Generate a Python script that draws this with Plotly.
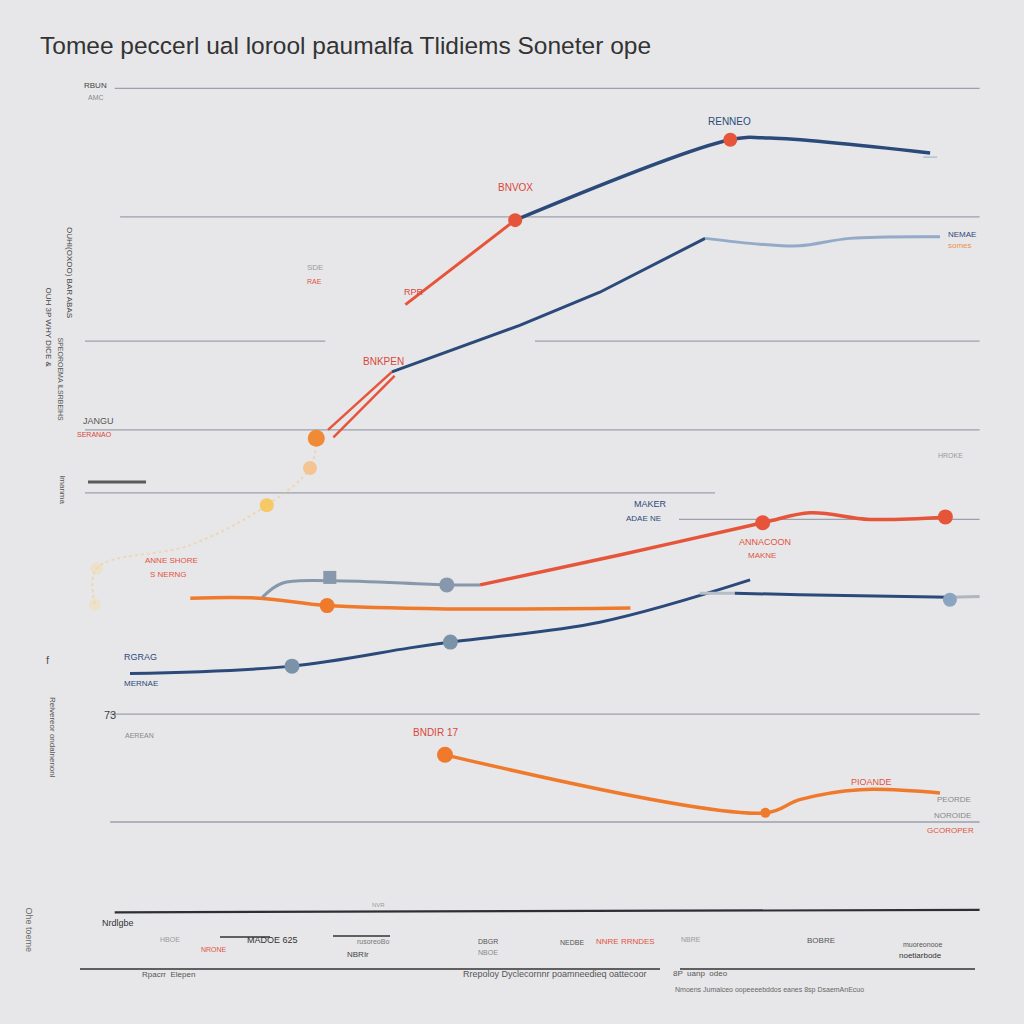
import plotly.graph_objects as go

# ---------------- data (x: period index 0-100, y: value 0-100) ----------------
top_x = [47.8, 71.7, 76.1, 93.9]
top_y = [83.7, 93.4, 93.6, 91.8]
top_lead_x = [35.6, 47.8]
top_lead_y = [73.5, 83.7]

rise_red1_x = [27.0, 34.1]
rise_red1_y = [58.4, 65.4]
rise_red2_x = [27.6, 34.4]
rise_red2_y = [57.5, 64.9]
rise_x = [34.1, 48.3, 57.2, 68.9]
rise_y = [65.4, 71.0, 75.0, 81.5]
plateau_x = [68.9, 75.0, 79.4, 85.0, 95.0]
plateau_y = [81.5, 80.8, 80.6, 81.5, 81.7]

faint_x = [25.7, 25.0, 20.2, 11.7, 1.3, 1.1]
faint_y = [57.4, 53.8, 49.3, 44.5, 41.7, 37.3]

orange_x = [11.7, 19.4, 26.9, 40.6, 60.6]
orange_y = [38.1, 38.1, 37.2, 36.8, 36.9]

grey_x = [19.7, 21.9, 27.2, 40.2, 43.9]
grey_y = [38.2, 39.9, 40.2, 39.7, 39.7]
red_x = [43.9, 59.4, 75.3, 80.6, 87.2, 95.6]
red_y = [39.7, 43.3, 47.2, 48.4, 47.6, 47.9]

navy_low_x = [5.0, 23.0, 36.1, 40.6, 57.2, 73.9]
navy_low_y = [29.0, 29.9, 32.1, 32.8, 35.2, 40.3]
navy_flat_x = [72.2, 79.4, 96.1]
navy_flat_y = [38.7, 38.5, 38.2]

orange_low_x = [40.0, 75.6, 79.4, 86.1, 95.0]
orange_low_y = [19.2, 12.2, 13.8, 15.0, 14.6]

grid_y = [99.6, 84.1, 69.1, 69.1, 58.4, 50.8, 47.6, 24.1, 11.1]
grid_x0 = [3.3, 3.9, 0.0, 50.0, 0.0, 0.0, 66.0, 2.8, 2.8]
grid_x1 = [99.4, 99.4, 26.7, 99.4, 99.4, 70.0, 99.4, 99.4, 99.4]

labels = [
    ("RENNEO", 71.6, 95.6, "#2b4a7a", 10),
    ("BNVOX", 47.8, 87.6, "#d9463a", 10),
    ("BNKPEN", 33.2, 66.6, "#d9463a", 10),
    ("RPR", 36.6, 75.0, "#d9463a", 9),
    ("MAKER", 62.8, 49.4, "#2b4a7a", 9),
    ("ADAE NE", 62.0, 47.7, "#2b4a7a", 8),
    ("ANNACOON", 75.6, 44.9, "#e2533e", 9),
    ("MAKNE", 75.2, 43.3, "#e2533e", 8),
    ("RGRAG", 6.2, 31.0, "#2b4a7a", 9),
    ("MERNAE", 6.2, 27.8, "#2b4a7a", 8),
    ("BNDIR 17", 38.9, 21.9, "#d9463a", 10),
    ("PIOANDE", 87.4, 15.9, "#e2533e", 9),
    ("PEORDE", 96.6, 13.8, "#888888", 8),
    ("NOROIDE", 96.4, 11.9, "#888888", 8),
    ("GCOROPER", 96.2, 10.1, "#e2533e", 8),
    ("NEMAE", 97.4, 82.0, "#2b4a7a", 8),
    ("somes", 97.2, 80.6, "#e8924a", 8),
    ("ANNE SHORE", 9.6, 42.6, "#e2533e", 8),
    ("S NERNG", 9.2, 41.0, "#e2533e", 8),
    ("JANGU", 1.5, 59.5, "#555555", 9),
    ("SERANAO", 1.1, 57.8, "#d9463a", 7),
    ("RBUN", 1.2, 100.0, "#444444", 8),
    ("AMC", 1.2, 98.5, "#888888", 7),
    ("SDE", 25.5, 78.0, "#999999", 8),
    ("RAE", 25.5, 76.3, "#e2533e", 7),
    ("73", 2.8, 24.0, "#444444", 11),
    ("AEREAN", 6.0, 21.5, "#888888", 7),
]

bg = "#e7e7e9"
navy = "#2b4a7a"
lightblue = "#93abc7"
red = "#e6553a"
orange = "#f07a2c"
greyblue = "#8798ad"
FONT = "Liberation Sans, Arial"

W, H = 1024, 1024
L, R, T, B = 85, 39, 85, 110

fig = go.Figure()

def line(x, y, color, width=3, dash=None, opacity=1.0, shape="spline"):
    fig.add_trace(go.Scatter(x=x, y=y, mode="lines", line=dict(color=color, width=width, shape=shape, dash=dash),
                             opacity=opacity, hoverinfo="skip", cliponaxis=False, showlegend=False))

def pts(x, y, color, size, opacity=1.0, symbol="circle"):
    fig.add_trace(go.Scatter(x=x, y=y, mode="markers", marker=dict(color=color, size=size, symbol=symbol, line=dict(width=0)),
                             opacity=opacity, hoverinfo="skip", cliponaxis=False, showlegend=False))

# grid lines
for gx0, gx1, gy in zip(grid_x0, grid_x1, grid_y):
    fig.add_shape(type="line", xref="x", yref="y", x0=gx0, x1=gx1, y0=gy, y1=gy,
                  line=dict(color="#9c9fad", width=1.3), layer="below")
# base line (bottom of plot)
fig.add_shape(type="line", xref="x", yref="y", x0=3.3, x1=99.4, y0=0.2, y1=0.5,
              line=dict(color="#2e2e35", width=2.2))
fig.add_shape(type="line", xref="x", yref="y", x0=3.3, x1=99.4, y0=-0.5, y1=-0.2,
              line=dict(color="#666", width=1))

# faint yellow trail
line(faint_x, faint_y, "#f3c67a", width=2, dash="dot", opacity=0.45)
pts([faint_x[1]], [faint_y[1]], "#f6c28a", 14, 0.9)
pts([faint_x[2]], [faint_y[2]], "#f8c65a", 14, 0.9)
pts([faint_x[4], faint_x[5]], [faint_y[4], faint_y[5]], "#f1dcaa", 12, 0.5)

# lower navy
line(navy_low_x, navy_low_y, navy, 3)
pts([navy_low_x[1], navy_low_x[3]], [navy_low_y[1], navy_low_y[3]], "#7a93a8", 15)
line([navy_flat_x[0] - 3.9, navy_flat_x[0]], [navy_flat_y[0], navy_flat_y[0]], "#b5bdc8", 3, shape="linear")
line(navy_flat_x, navy_flat_y, navy, 3)
line([navy_flat_x[-1], navy_flat_x[-1] + 3.3], [navy_flat_y[-1], navy_flat_y[-1] + 0.1], "#b0b5bf", 3, shape="linear")
pts([navy_flat_x[-1]], [navy_flat_y[-1] - 0.3], "#8aa5c0", 14)

# orange flat
line(orange_x, orange_y, orange, 3.5)
pts([orange_x[2]], [orange_y[2]], orange, 15)

# grey -> red
line(grey_x, grey_y, greyblue, 3)
pts([grey_x[2]], [grey_y[2] + 0.4], greyblue, 13, symbol="square")
pts([grey_x[3]], [grey_y[3]], greyblue, 15)
line(red_x, red_y, red, 3.5)
pts([red_x[2], red_x[5]], [red_y[2], red_y[5]], red, 15)

# lower orange
line(orange_low_x, orange_low_y, orange, 3.5)
pts([orange_low_x[0]], [orange_low_y[0]], orange, 16)
pts([orange_low_x[1]], [orange_low_y[1]], orange, 10)

# rising line
line(rise_red1_x, rise_red1_y, red, 2.5, shape="linear")
line(rise_red2_x, rise_red2_y, red, 2.5, shape="linear")
line(rise_x, rise_y, navy, 3, shape="linear")
line(plateau_x, plateau_y, lightblue, 3)
pts([faint_x[0]], [faint_y[0]], "#f08a36", 17)

# top line
line(top_lead_x, top_lead_y, red, 3, shape="linear")
line(top_x, top_y, navy, 3.5)
pts([top_x[0], top_x[1]], [top_y[0], top_y[1]], red, 14)
pts([top_x[-1]], [top_y[-1] - 0.5], "#8fb0c8", 10, symbol="line-ew-open")

for txt, lx, ly, col, sz in labels:
    fig.add_annotation(x=lx, y=ly, xref="x", yref="y", text=txt, showarrow=False,
                       font=dict(size=sz, color=col, family=FONT))

# paper helpers (pixel -> paper fraction)
def pxp(px):
    return (px - L) / (W - L - R)
def pyp(py):
    return (H - B - py) / (H - T - B)

side = [
    ("OUHI(OXOO) BAR ABAS", 63, 225, "#444444", 8, 90),
    ("OUH 3P WHY DICE &", 42, 285, "#444444", 8, 90),
    ("SPEOROEMA ILSRBEIHS", 55, 335, "#555555", 7, 90),
    ("lmanma", 56, 490, "#555555", 8, 90),
    ("f", 44, 668, "#555555", 11, 0),
    ("Relvereor ondalnenonl", 46, 780, "#555555", 8, 90),
    ("Ohe toeme", 22, 955, "#666666", 9, 90),
    ("HROKE", 965, 455, "#999999", 7, 0),
]
for txt, px, py, col, sz, ang in side:
    fig.add_annotation(x=pxp(px), y=pyp(py), xref="paper", yref="paper", text=txt, showarrow=False,
                       textangle=ang, font=dict(size=sz, color=col, family=FONT))

bottom = [
    ("Nrdlgbe", 100, 930, "#333333", 9),
    ("HBOE", 158, 945, "#999999", 7),
    ("NRONE", 199, 955, "#e2533e", 7),
    ("MADOE 625", 245, 947, "#333333", 9),
    ("NBRIr", 345, 961, "#444444", 8),
    ("rusoreoBo", 355, 947, "#777777", 7),
    ("DBGR", 488, 947, "#555555", 7),
    ("NBOE", 488, 958, "#888888", 7),
    ("NEDBE", 572, 948, "#555555", 7),
    ("NNRE RRNDES", 625, 948, "#e2533e", 8),
    ("NVR", 370, 910, "#999999", 6),
    ("NBRE", 703, 945, "#999999", 7),
    ("BOBRE", 837, 947, "#555555", 8),
    ("muoreonooe", 944, 950, "#555555", 7),
    ("noetiarbode", 944, 962, "#333333", 8),
    ("Rpacrr  Elepen", 140, 981, "#555555", 8),
    ("Rrepoloy Dyclecornnr poamneedieq oattecoor", 555, 981, "#555555", 9),
    ("8P  uanp  odeo", 730, 980, "#555555", 8),
    ("Nmoens Jumalceo oopeeeebddos eanes 8sp DsaemAnEcuo", 866, 996, "#666666", 7),
]
for txt, px, py, col, sz in bottom:
    fig.add_annotation(x=pxp(px), y=pyp(py), xref="paper", yref="paper", text=txt, showarrow=False,
                       font=dict(size=sz, color=col, family=FONT))

# bottom underline rules
for x0, x1, yy in [(80, 660, 969), (680, 975, 969), (220, 270, 937), (333, 390, 936)]:
    fig.add_shape(type="line", xref="paper", yref="paper", x0=pxp(x0), x1=pxp(x1), y0=pyp(yy), y1=pyp(yy),
                  line=dict(color="#333333", width=1.5))
# small dark bar near left
fig.add_shape(type="line", xref="paper", yref="paper", x0=pxp(88), x1=pxp(146), y0=pyp(482), y1=pyp(482),
              line=dict(color="#5a5a5a", width=3))

fig.update_layout(
    width=W, height=H,
    margin=dict(l=L, r=R, t=T, b=B),
    paper_bgcolor=bg, plot_bgcolor=bg,
    title=dict(text="Tomee peccerl ual lorool paumalfa Tlidiems Soneter ope",
               x=40 / W, xanchor="left", y=1 - 45 / H, yanchor="middle",
               font=dict(size=24.5, color="#333333", family=FONT)),
    xaxis=dict(range=[0, 100], visible=False, fixedrange=True),
    yaxis=dict(range=[0, 100], visible=False, fixedrange=True),
    showlegend=False,
)

fig.write_html("out.html", config={"displayModeBar": False},
               post_script="document.body.style.margin='0';document.body.style.background='%s';" % bg)
